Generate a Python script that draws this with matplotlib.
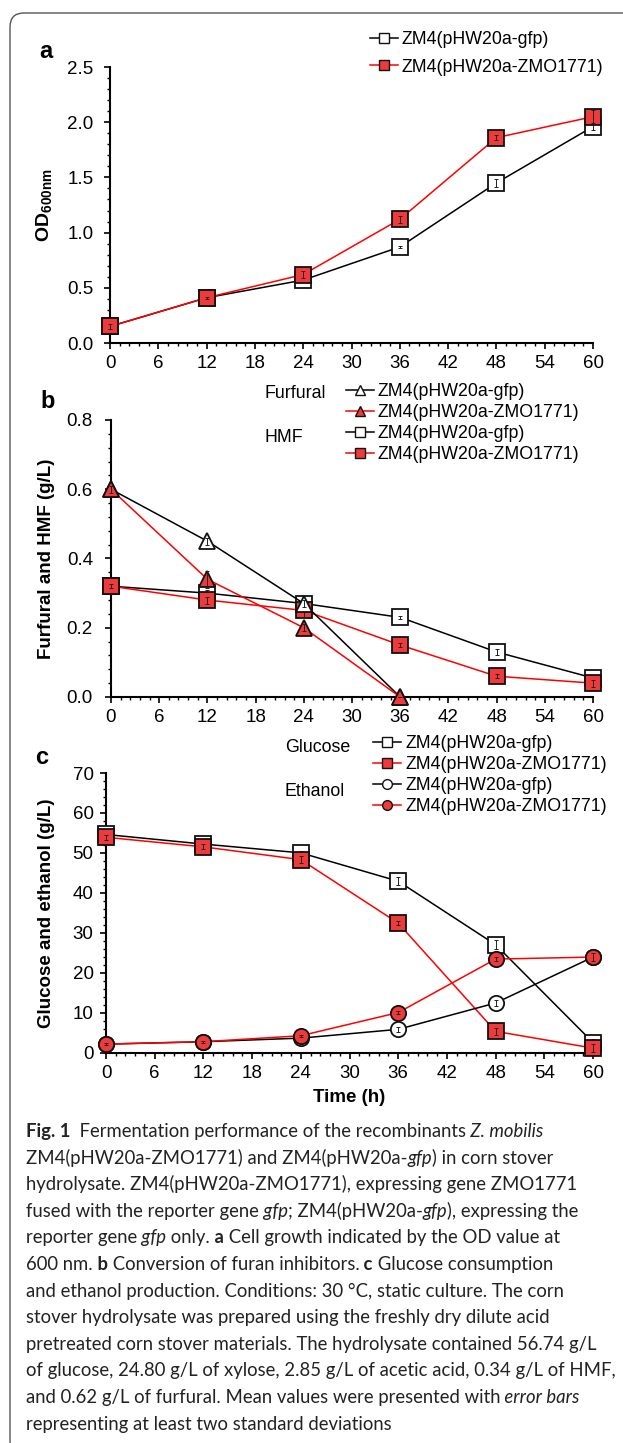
import matplotlib
matplotlib.use('Agg')
import matplotlib.pyplot as plt
from matplotlib.lines import Line2D
from matplotlib.patches import FancyBboxPatch
from matplotlib.transforms import IdentityTransform
from matplotlib.ticker import MultipleLocator, FormatStrFormatter

# ---- data ----
time = [0, 12, 24, 36, 48, 60]
time_furfural = [0, 12, 24, 36]

# a: OD600
od_gfp = [0.15, 0.41, 0.57, 0.87, 1.45, 1.96]
od_gfp_err = [0.01, 0.01, 0.02, 0.01, 0.04, 0.03]
od_zmo = [0.15, 0.41, 0.62, 1.12, 1.86, 2.05]
od_zmo_err = [0.02, 0.01, 0.03, 0.03, 0.02, 0.06]

# b: furfural and HMF (g/L)
furfural_gfp = [0.60, 0.45, 0.27, 0.0]
furfural_gfp_err = [0.005, 0.01, 0.01, 0.0]
furfural_zmo = [0.60, 0.34, 0.20, 0.0]
furfural_zmo_err = [0.01, 0.025, 0.01, 0.0]
hmf_gfp = [0.32, 0.30, 0.27, 0.23, 0.13, 0.055]
hmf_gfp_err = [0.005, 0.01, 0.01, 0.005, 0.008, 0.005]
hmf_zmo = [0.32, 0.28, 0.25, 0.15, 0.06, 0.04]
hmf_zmo_err = [0.005, 0.01, 0.02, 0.005, 0.005, 0.01]

# c: glucose and ethanol (g/L)
glucose_gfp = [54.6, 52.2, 50.0, 42.9, 27.0, 2.5]
glucose_gfp_err = [0.5, 0.5, 0.5, 1.0, 1.2, 0.8]
glucose_zmo = [53.9, 51.5, 48.3, 32.4, 5.3, 1.1]
glucose_zmo_err = [0.6, 0.6, 0.8, 0.5, 0.8, 1.0]
ethanol_gfp = [2.1, 2.7, 3.6, 5.8, 12.4, 23.9]
ethanol_gfp_err = [0.3, 0.2, 0.3, 0.6, 0.8, 0.8]
ethanol_zmo = [2.1, 2.7, 4.2, 10.0, 23.4, 23.9]
ethanol_zmo_err = [0.3, 0.2, 0.3, 0.3, 0.4, 1.0]

lab_gfp = "ZM4(pHW20a-gfp)"
lab_zmo = "ZM4(pHW20a-ZMO1771)"

caption_lines = [
    [("Fig. 1", "b"), ("  Fermentation performance of the recombinants", "n"), (" Z. mobilis", "i")],
    [("ZM4(pHW20a-ZMO1771) and ZM4(pHW20a-", "n"), ("gfp", "i"), (") in corn stover", "n")],
    [("hydrolysate. ZM4(pHW20a-ZMO1771), expressing gene ZMO1771", "n")],
    [("fused with the reporter gene", "n"), (" gfp", "i"), ("; ZM4(pHW20a-", "n"), ("gfp", "i"),
     ("), expressing the", "n")],
    [("reporter gene", "n"), (" gfp", "i"), (" only.", "n"), (" a", "b"),
     (" Cell growth indicated by the OD value at", "n")],
    [("600 nm.", "n"), (" b", "b"), (" Conversion of furan inhibitors.", "n"), (" c", "b"),
     (" Glucose consumption", "n")],
    [("and ethanol production. Conditions: 30 °C, static culture. The corn", "n")],
    [("stover hydrolysate was prepared using the freshly dry dilute acid", "n")],
    [("pretreated corn stover materials. The hydrolysate contained 56.74 g/L", "n")],
    [("of glucose, 24.80 g/L of xylose, 2.85 g/L of acetic acid, 0.34 g/L of HMF,", "n")],
    [("and 0.62 g/L of furfural. Mean values were presented with", "n"), (" error bars", "i")],
    [("representing at least two standard deviations", "n")],
]

# ---- figure ----
W, H = 623, 1443
plt.rcParams['font.family'] = ['Liberation Sans', 'DejaVu Sans']
plt.rcParams['mathtext.fontset'] = 'custom'
plt.rcParams['mathtext.rm'] = 'Liberation Sans'
plt.rcParams['mathtext.bf'] = 'Liberation Sans:bold'

fig = plt.figure(figsize=(W / 100, H / 100), dpi=100)
RED = '#ff0000'
RED_FILL = '#ee3a3a'
FS_TICK = 13.5
FS_LEG = 12.8


def box(left, right, top, bottom):
    return [left / W, 1 - bottom / H, (right - left) / W, (bottom - top) / H]


def style(ax, ymax, ymajor, yminor, fmt, ypad):
    ax.set_xlim(0, 60)
    ax.set_ylim(0, ymax)
    ax.xaxis.set_major_locator(MultipleLocator(6))
    ax.xaxis.set_minor_locator(MultipleLocator(1.2))
    ax.yaxis.set_major_locator(MultipleLocator(ymajor))
    ax.yaxis.set_minor_locator(MultipleLocator(yminor))
    ax.yaxis.set_major_formatter(FormatStrFormatter(fmt))
    for s in ['top', 'right']:
        ax.spines[s].set_visible(False)
    for s in ['left', 'bottom']:
        ax.spines[s].set_linewidth(1.5)
    ax.tick_params(which='major', direction='out', length=4, width=1.2, labelsize=FS_TICK)
    ax.tick_params(which='minor', direction='out', length=2.2, width=1)
    ax.tick_params(axis='x', which='major', pad=5)
    ax.tick_params(axis='y', which='major', pad=ypad)
    ax.patch.set_visible(False)


def series(ax, t, y, err, marker, face, color, z, ms=11):
    ax.plot(t, y, color=color, lw=1.1, marker=marker, ms=ms, mfc=face, mec='#111111',
            mew=1.3, clip_on=False, zorder=z)
    ax.errorbar(t, y, yerr=err, fmt='none', ecolor='#222222', elinewidth=0.7,
                capsize=1.6, capthick=0.7, clip_on=False, zorder=z + 0.5)


def handle(marker, face, color):
    return Line2D([], [], color=color, lw=1.1, marker=marker, ms=7, mfc=face,
                  mec='#111111', mew=1)


def legend(ax, handles, labels, x, y, spacing):
    ax.legend(handles, labels, loc='upper left', bbox_to_anchor=(x / W, 1 - y / H),
              bbox_transform=fig.transFigure, frameon=False, fontsize=FS_LEG,
              handlelength=1.55, handletextpad=0.25, borderpad=0, borderaxespad=0,
              labelspacing=spacing)


# panel a
ax_a = fig.add_axes(box(110, 593, 67, 343))
style(ax_a, 2.5, 0.5, 0.1, '%.1f', 8)
series(ax_a, time, od_gfp, od_gfp_err, 's', 'white', 'black', 3)
series(ax_a, time, od_zmo, od_zmo_err, 's', RED_FILL, RED, 4)
ax_a.set_ylabel(r'$\mathbf{OD}_{\mathbf{600nm}}$', fontsize=14)
ax_a.yaxis.set_label_coords((55 - 110) / (593 - 110), 0.5)
legend(ax_a, [handle('s', 'white', 'black'), handle('s', RED_FILL, RED)],
       [lab_gfp, lab_zmo], 370, 31, 0.6)

# panel b
ax_b = fig.add_axes(box(111, 593, 420, 697))
style(ax_b, 0.8, 0.2, 0.04, '%.1f', 9)
series(ax_b, time, hmf_gfp, hmf_gfp_err, 's', 'white', 'black', 3)
series(ax_b, time, hmf_zmo, hmf_zmo_err, 's', RED_FILL, RED, 4)
series(ax_b, time_furfural, furfural_gfp, furfural_gfp_err, '^', 'white', 'black', 5, ms=12)
series(ax_b, time_furfural, furfural_zmo, furfural_zmo_err, '^', RED_FILL, RED, 6, ms=12)
ax_b.set_ylabel('Furfural and HMF (g/L)', fontsize=13.5, fontweight='bold')
ax_b.yaxis.set_label_coords((55 - 111) / (593 - 111), 0.5)
legend(ax_b, [handle('^', 'white', 'black'), handle('^', RED_FILL, RED),
              handle('s', 'white', 'black'), handle('s', RED_FILL, RED)],
       [lab_gfp, lab_zmo, lab_gfp, lab_zmo], 346, 383, 0.22)
fig.text(265 / W, 1 - 393 / H, 'Furfural', fontsize=FS_LEG, va='center')
fig.text(265 / W, 1 - 437 / H, 'HMF', fontsize=FS_LEG, va='center')

# panel c
ax_c = fig.add_axes(box(106, 593, 773, 1052.5))
style(ax_c, 70, 10, 2, '%d', 5)
series(ax_c, time, glucose_gfp, glucose_gfp_err, 's', 'white', 'black', 3)
series(ax_c, time, glucose_zmo, glucose_zmo_err, 's', RED_FILL, RED, 4)
series(ax_c, time, ethanol_gfp, ethanol_gfp_err, 'o', 'white', 'black', 5)
series(ax_c, time, ethanol_zmo, ethanol_zmo_err, 'o', RED_FILL, RED, 6)
ax_c.set_ylabel('Glucose and ethanol (g/L)', fontsize=13.5, fontweight='bold')
ax_c.yaxis.set_label_coords((55 - 106) / (593 - 106), 0.5)
ax_c.set_xlabel('Time (h)', fontsize=13.5, fontweight='bold')
ax_c.xaxis.set_label_coords(0.5, (1052.5 - 1089) / 279.5)
legend(ax_c, [handle('s', 'white', 'black'), handle('s', RED_FILL, RED),
              handle('o', 'white', 'black'), handle('o', RED_FILL, RED)],
       [lab_gfp, lab_zmo, lab_gfp, lab_zmo], 373, 735, 0.22)
fig.text(285 / W, 1 - 748 / H, 'Glucose', fontsize=FS_LEG, va='center')
fig.text(285 / W, 1 - 792 / H, 'Ethanol', fontsize=FS_LEG, va='center')

# panel letters
for lx, ly, letter in [(39, 52, 'a'), (40, 402, 'b'), (35, 757, 'c')]:
    fig.text(lx / W, 1 - ly / H, letter, fontsize=17, fontweight='bold', va='center')

# frame
frame = FancyBboxPatch((10, -12), 700, 1442, boxstyle='round,pad=0,rounding_size=14',
                       transform=IdentityTransform(), fill=False, ec='#555555', lw=1)
fig.add_artist(frame)

# caption with mixed styles
cap_font = {'n': dict(family='Lato'),
            'b': dict(family='Lato', weight='bold'),
            'i': dict(family='Lato', style='italic')}
renderer = fig.canvas.get_renderer()


def line_width(segs, size):
    total = 0
    for s, k in segs:
        p = fig.text(0, 0, s, fontsize=size, **cap_font[k])
        total += p.get_window_extent(renderer).width
        p.remove()
    return total


widest = max(line_width(segs, 12) for segs in caption_lines)
cap_size = 12 * 590 / widest

for i, segs in enumerate(caption_lines):
    x = 26
    y = 1137 + i * 26.6
    for s, k in segs:
        t = fig.text(x / W, 1 - y / H, s, fontsize=cap_size, va='baseline', ha='left',
                     color='#222222', **cap_font[k])
        x += t.get_window_extent(renderer).width

fig.savefig('out.png', dpi=100)
